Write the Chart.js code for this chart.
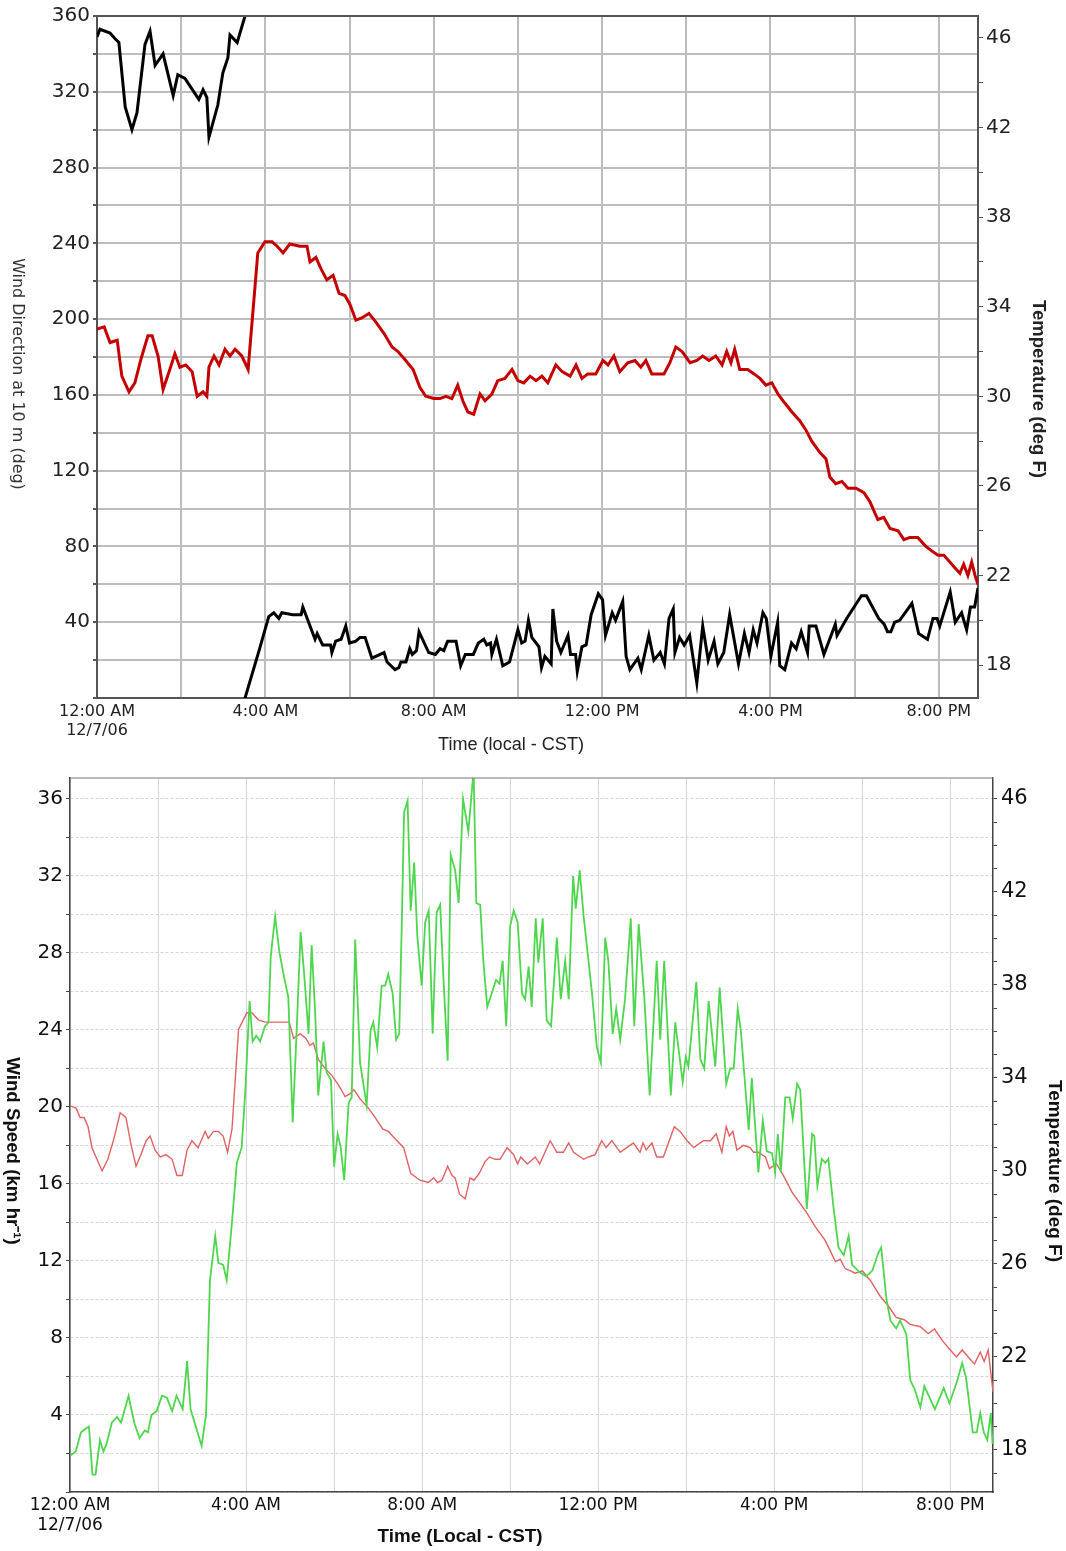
<!DOCTYPE html>
<html lang="en">
<head>
  <meta charset="UTF-8">
  <title>Wind and temperature 12/7/06</title>
  <script src="https://cdn.jsdelivr.net/npm/chart.js"></script>
  <style>
    body { margin: 0; background: #fff; }
    canvas { position: absolute; left: 0; }
  </style>
</head>
<body>
  <canvas id="dirChart" width="1066" height="760" style="top:0"></canvas>
  <canvas id="speedChart" width="1066" height="791" style="top:760px"></canvas>

  <script>
    // hours after midnight (CST), 12/7/06
    const dirHours = [0.00, 0.07, 0.31, 0.43, 0.52, 0.67, 0.83, 0.95, 1.14, 1.26,
      1.38, 1.57, 1.81, 1.92, 2.09, 2.21, 2.42, 2.52, 2.61, 2.66,
      2.87, 2.99, 3.11, 3.16, 3.33, 3.85, 4.08, 4.20, 4.32, 4.39,
      4.65, 4.85, 4.89, 5.18, 5.23, 5.36, 5.55, 5.58, 5.67, 5.80,
      5.91, 6.00, 6.15, 6.25, 6.37, 6.53, 6.82, 6.89, 7.08, 7.17,
      7.22, 7.34, 7.43, 7.49, 7.59, 7.65, 7.88, 8.04, 8.15, 8.24,
      8.33, 8.53, 8.64, 8.75, 8.94, 9.06, 9.19, 9.26, 9.35, 9.38,
      9.49, 9.64, 9.80, 10.00, 10.09, 10.17, 10.25, 10.33, 10.50, 10.56,
      10.64, 10.79, 10.83, 10.92, 11.02, 11.19, 11.25, 11.37, 11.41, 11.52,
      11.62, 11.74, 11.91, 12.01, 12.08, 12.24, 12.32, 12.49, 12.57, 12.66,
      12.85, 12.93, 13.11, 13.23, 13.38, 13.48, 13.59, 13.69, 13.73, 13.84,
      13.95, 14.08, 14.25, 14.39, 14.52, 14.66, 14.75, 14.89, 15.03, 15.24,
      15.38, 15.49, 15.59, 15.68, 15.82, 15.90, 16.01, 16.17, 16.22, 16.34,
      16.50, 16.61, 16.73, 16.88, 16.92, 17.08, 17.27, 17.54, 17.58, 17.81,
      18.16, 18.28, 18.57, 18.70, 18.78, 18.86, 18.95, 19.07, 19.36, 19.52,
      19.73, 19.86, 19.96, 20.02, 20.27, 20.39, 20.54, 20.66, 20.75, 20.85,
      20.93];
    const dirDeg = [349, 353, 351, 348, 346, 312, 300, 309, 345, 352,
      334, 340, 318, 329, 327, 323, 316, 321, 317, 296,
      313, 330, 338, 350, 346, 25, 43, 45, 42, 45,
      44, 44, 48, 31, 34, 28, 28, 24, 30, 31,
      38, 29, 30, 32, 32, 21, 24, 19, 15, 16,
      19, 19, 26, 23, 25, 35, 24, 23, 26, 25,
      30, 30, 17, 23, 23, 29, 31, 28, 29, 23,
      31, 17, 19, 36, 29, 30, 41, 32, 27, 16,
      22, 18, 47, 30, 24, 33, 23, 23, 14, 27,
      28, 44, 55, 52, 33, 45, 41, 51, 22, 15,
      21, 15, 33, 20, 24, 18, 42, 47, 24, 32,
      28, 33, 8, 38, 20, 30, 18, 24, 44, 18,
      34, 24, 36, 29, 45, 42, 22, 40, 17, 15,
      29, 26, 35, 24, 38, 38, 23, 39, 33, 42,
      54, 54, 42, 39, 35, 35, 40, 41, 50, 34,
      31, 42, 42, 38, 56, 40, 45, 36, 48, 48,
      58];

    const tempTopHours = [0.00, 0.17, 0.31, 0.48, 0.59, 0.76, 0.90, 1.05, 1.21, 1.31,
      1.45, 1.57, 1.73, 1.85, 1.97, 2.11, 2.26, 2.38, 2.52, 2.61,
      2.66, 2.78, 2.90, 3.04, 3.16, 3.28, 3.44, 3.59, 3.71, 3.82,
      3.99, 4.16, 4.28, 4.42, 4.58, 4.82, 4.99, 5.06, 5.20, 5.32,
      5.46, 5.61, 5.75, 5.89, 6.01, 6.15, 6.29, 6.46, 6.63, 6.82,
      7.01, 7.15, 7.29, 7.51, 7.67, 7.81, 8.00, 8.15, 8.29, 8.43,
      8.57, 8.69, 8.81, 8.95, 9.10, 9.22, 9.38, 9.52, 9.69, 9.86,
      10.00, 10.14, 10.29, 10.43, 10.57, 10.71, 10.90, 11.05, 11.24, 11.38,
      11.52, 11.66, 11.85, 12.02, 12.14, 12.28, 12.42, 12.61, 12.78, 12.92,
      13.04, 13.18, 13.33, 13.47, 13.61, 13.75, 13.90, 14.09, 14.25, 14.39,
      14.54, 14.70, 14.85, 14.96, 15.06, 15.15, 15.27, 15.46, 15.61, 15.75,
      15.89, 16.03, 16.18, 16.34, 16.51, 16.70, 16.84, 16.98, 17.17, 17.32,
      17.41, 17.55, 17.70, 17.84, 18.03, 18.22, 18.36, 18.55, 18.69, 18.84,
      19.03, 19.17, 19.31, 19.50, 19.69, 19.83, 19.98, 20.12, 20.26, 20.40,
      20.50, 20.59, 20.69, 20.78, 20.86, 20.93];
    const tempTopF = [33.0, 33.1, 32.4, 32.5, 30.9, 30.2, 30.6, 31.7, 32.7, 32.7,
      31.8, 30.3, 31.2, 31.9, 31.3, 31.4, 31.1, 30.0, 30.2, 30.0,
      31.3, 31.8, 31.4, 32.1, 31.8, 32.1, 31.8, 31.2, 33.9, 36.4,
      36.9, 36.9, 36.7, 36.4, 36.8, 36.7, 36.7, 36.0, 36.2, 35.7,
      35.2, 35.4, 34.6, 34.5, 34.1, 33.4, 33.5, 33.7, 33.3, 32.8,
      32.2, 32.0, 31.7, 31.2, 30.4, 30.0, 29.9, 29.9, 30.0, 29.9,
      30.5, 29.8, 29.3, 29.2, 30.1, 29.8, 30.1, 30.7, 30.8, 31.2,
      30.7, 30.6, 30.9, 30.7, 30.9, 30.6, 31.4, 31.1, 30.9, 31.4,
      30.8, 31.0, 31.0, 31.6, 31.4, 31.8, 31.1, 31.5, 31.6, 31.3,
      31.6, 31.0, 31.0, 31.0, 31.5, 32.2, 32.0, 31.5, 31.6, 31.8,
      31.6, 31.8, 31.4, 32.0, 31.5, 32.1, 31.2, 31.2, 31.0, 30.8,
      30.5, 30.6, 30.1, 29.7, 29.3, 28.9, 28.5, 28.0, 27.5, 27.2,
      26.4, 26.1, 26.2, 25.9, 25.9, 25.7, 25.3, 24.5, 24.6, 24.1,
      24.0, 23.6, 23.7, 23.7, 23.3, 23.1, 22.9, 22.9, 22.6, 22.3,
      22.1, 22.5, 22.0, 22.6, 22.0, 21.6];

    const speedHours = [0.01, 0.13, 0.25, 0.36, 0.43, 0.51, 0.58, 0.68, 0.76, 0.83,
      0.95, 1.07, 1.16, 1.33, 1.46, 1.58, 1.70, 1.77, 1.85, 1.97,
      2.09, 2.20, 2.32, 2.42, 2.56, 2.66, 2.74, 2.99, 3.09, 3.18,
      3.30, 3.37, 3.48, 3.56, 3.68, 3.79, 3.90, 3.98, 4.08, 4.15,
      4.23, 4.32, 4.43, 4.51, 4.56, 4.66, 4.76, 4.86, 4.96, 5.06,
      5.15, 5.24, 5.32, 5.42, 5.49, 5.57, 5.64, 5.76, 5.83, 5.93,
      6.00, 6.08, 6.15, 6.23, 6.33, 6.40, 6.48, 6.59, 6.74, 6.83,
      6.89, 6.98, 7.08, 7.16, 7.23, 7.33, 7.41, 7.48, 7.54, 7.59,
      7.67, 7.74, 7.82, 7.89, 7.99, 8.07, 8.15, 8.24, 8.33, 8.41,
      8.48, 8.58, 8.65, 8.75, 8.83, 8.93, 9.05, 9.17, 9.23, 9.32,
      9.39, 9.48, 9.58, 9.68, 9.76, 9.83, 9.91, 10.00, 10.08, 10.17,
      10.27, 10.34, 10.42, 10.49, 10.58, 10.64, 10.74, 10.83, 10.93, 11.06,
      11.15, 11.25, 11.33, 11.43, 11.49, 11.58, 11.67, 11.86, 11.97, 12.06,
      12.16, 12.23, 12.33, 12.41, 12.50, 12.61, 12.74, 12.82, 12.92, 13.05,
      13.17, 13.33, 13.41, 13.50, 13.65, 13.75, 13.92, 13.99, 14.05, 14.23,
      14.32, 14.41, 14.51, 14.66, 14.76, 14.91, 15.00, 15.08, 15.17, 15.24,
      15.42, 15.49, 15.64, 15.74, 15.83, 15.95, 16.02, 16.08, 16.15, 16.25,
      16.35, 16.42, 16.52, 16.59, 16.74, 16.86, 16.91, 16.98, 17.08, 17.16,
      17.23, 17.35, 17.46, 17.58, 17.69, 17.77, 17.95, 18.09, 18.23, 18.36,
      18.43, 18.55, 18.64, 18.77, 18.86, 19.00, 19.09, 19.18, 19.32, 19.41,
      19.65, 19.85, 19.98, 20.16, 20.27, 20.36, 20.51, 20.60, 20.68, 20.76,
      20.84, 20.92, 20.96];
    const speedKmh = [1.9, 2.1, 3.1, 3.3, 3.4, 0.9, 0.9, 2.7, 2.1, 2.5,
      3.6, 3.9, 3.6, 5.0, 3.6, 2.8, 3.2, 3.1, 4.0, 4.2,
      5.0, 4.9, 4.2, 5.0, 4.3, 6.8, 4.3, 2.4, 4.0, 11.0,
      13.3, 11.9, 11.8, 11.0, 14.0, 17.1, 17.9, 20.7, 25.5, 23.4,
      23.7, 23.4, 24.2, 24.4, 27.8, 29.9, 28.0, 26.8, 25.7, 19.2,
      24.0, 29.1, 26.9, 23.8, 28.4, 24.9, 20.6, 23.4, 21.8, 21.4,
      16.9, 18.6, 17.9, 16.2, 20.2, 20.5, 28.7, 22.3, 20.1, 24.0,
      24.4, 23.1, 26.3, 26.3, 26.9, 25.9, 23.5, 23.8, 29.7, 35.3,
      35.9, 30.2, 32.7, 28.9, 26.3, 29.6, 30.2, 23.8, 30.1, 30.5,
      26.9, 22.4, 33.1, 32.3, 30.6, 36.0, 34.3, 37.5, 30.6, 30.5,
      27.6, 25.2, 25.9, 26.6, 26.4, 27.6, 24.2, 29.4, 30.2, 29.6,
      25.9, 25.6, 27.3, 25.2, 29.8, 27.5, 29.8, 24.5, 24.2, 28.8,
      25.6, 27.6, 25.6, 32.0, 30.3, 32.3, 29.9, 25.9, 23.1, 22.3,
      28.8, 27.6, 23.8, 25.1, 23.5, 25.6, 29.8, 24.2, 29.5, 25.6,
      20.6, 27.6, 23.5, 27.6, 20.6, 24.4, 21.3, 22.6, 22.1, 26.5,
      22.5, 22.0, 25.5, 22.1, 26.2, 21.2, 22.0, 22.0, 25.1, 24.0,
      18.8, 21.5, 16.6, 19.3, 17.7, 17.6, 16.6, 18.6, 16.6, 20.5,
      20.5, 19.4, 21.2, 20.9, 14.7, 18.6, 18.5, 15.9, 17.3, 17.1,
      17.3, 14.7, 12.7, 12.3, 13.3, 11.8, 11.4, 11.2, 11.5, 12.4,
      12.7, 10.0, 8.9, 8.5, 8.9, 8.2, 5.8, 5.4, 4.4, 5.5,
      4.3, 5.4, 4.6, 5.8, 6.7, 5.9, 3.1, 3.1, 4.1, 3.1,
      2.7, 4.1, 2.5];

    const tempBotHours = [0.00, 0.14, 0.23, 0.32, 0.41, 0.50, 0.59, 0.73, 0.86, 1.00,
      1.14, 1.27, 1.39, 1.50, 1.61, 1.73, 1.82, 1.93, 2.05, 2.18,
      2.32, 2.43, 2.55, 2.66, 2.77, 2.91, 3.07, 3.14, 3.26, 3.37,
      3.48, 3.58, 3.68, 3.83, 4.02, 4.13, 4.28, 4.43, 4.98, 5.08,
      5.23, 5.36, 5.45, 5.53, 5.64, 5.80, 5.95, 6.10, 6.25, 6.35,
      6.45, 6.59, 6.78, 6.93, 7.11, 7.23, 7.43, 7.58, 7.74, 7.95,
      8.14, 8.26, 8.35, 8.45, 8.58, 8.68, 8.75, 8.85, 8.98, 9.09,
      9.18, 9.30, 9.43, 9.53, 9.66, 9.77, 9.93, 10.08, 10.17, 10.24,
      10.39, 10.57, 10.67, 10.91, 11.06, 11.21, 11.33, 11.44, 11.67, 11.78,
      11.93, 12.08, 12.18, 12.31, 12.50, 12.65, 12.80, 12.95, 13.02, 13.09,
      13.22, 13.33, 13.48, 13.73, 13.86, 14.02, 14.17, 14.39, 14.55, 14.68,
      14.81, 14.91, 14.98, 15.06, 15.15, 15.30, 15.45, 15.53, 15.64, 15.80,
      15.89, 16.05, 16.21, 16.40, 16.74, 16.93, 17.16, 17.39, 17.50, 17.61,
      17.73, 17.84, 18.00, 18.18, 18.41, 18.59, 18.77, 18.95, 19.09, 19.32,
      19.50, 19.64, 19.82, 20.00, 20.14, 20.27, 20.45, 20.55, 20.68, 20.77,
      20.86, 20.97];
    const tempBotF = [32.8, 32.7, 32.3, 32.3, 31.9, 31.0, 30.6, 30.0, 30.5, 31.4,
      32.5, 32.3, 31.1, 30.2, 30.7, 31.3, 31.5, 30.9, 30.6, 30.7,
      30.5, 29.8, 29.8, 30.9, 31.3, 31.0, 31.7, 31.4, 31.7, 31.7,
      31.5, 30.8, 31.8, 36.1, 36.8, 36.8, 36.5, 36.4, 36.4, 35.7,
      35.9, 35.7, 35.4, 35.5, 34.8, 34.4, 34.1, 33.7, 33.2, 33.3,
      33.5, 33.1, 32.7, 32.3, 31.8, 31.7, 31.3, 31.0, 29.9, 29.6,
      29.5, 29.7, 29.5, 29.6, 30.2, 29.8, 29.7, 29.0, 28.8, 29.7,
      29.6, 29.9, 30.4, 30.6, 30.5, 30.5, 31.0, 30.7, 30.3, 30.6,
      30.3, 30.6, 30.3, 31.3, 30.8, 30.8, 31.2, 30.8, 30.5, 30.6,
      30.7, 31.3, 31.0, 31.3, 30.8, 31.0, 31.2, 30.8, 31.2, 30.9,
      31.2, 30.6, 30.6, 31.9, 31.7, 31.3, 31.0, 31.3, 31.3, 31.6,
      30.8, 31.9, 31.5, 31.7, 30.9, 31.1, 31.0, 30.8, 30.8, 30.6,
      30.1, 30.3, 29.8, 29.1, 28.2, 27.6, 27.0, 26.1, 26.2, 25.8,
      25.7, 25.6, 25.7, 25.3, 24.6, 24.2, 23.7, 23.6, 23.4, 23.3,
      23.0, 23.2, 22.7, 22.3, 22.0, 22.3, 21.9, 21.7, 22.2, 21.8,
      22.3, 20.5];

    const timeTickHours = [0, 4, 8, 12, 16, 20];
    const timeTickLabels = [["12:00 AM", "12/7/06"], "4:00 AM", "8:00 AM", "12:00 PM", "4:00 PM", "8:00 PM"];
    const dirTickLabels = [40, 80, 120, 160, 200, 240, 280, 320, 360];
    const speedTickLabels = [4, 8, 12, 16, 20, 24, 28, 32, 36];
    const tempTickLabels = [18, 22, 26, 30, 34, 38, 42, 46];

    function zip(xs, ys) {
      const n = Math.min(xs.length, ys.length);
      const out = [];
      for (let i = 0; i < n; i++) out.push({ x: xs[i], y: ys[i] });
      return out;
    }

    // direction wraps 360 -> 0; split there so the line runs off the top and comes back from the bottom
    function splitWrapped(xs, ys) {
      const segs = [[]];
      for (let i = 0; i < xs.length; i++) {
        if (i > 0 && Math.abs(ys[i] - ys[i - 1]) > 180) {
          const shift = ys[i] < ys[i - 1] ? 360 : -360;
          segs[segs.length - 1].push({ x: xs[i], y: ys[i] + shift });
          segs.push([{ x: xs[i - 1], y: ys[i - 1] - shift }]);
        }
        segs[segs.length - 1].push({ x: xs[i], y: ys[i] });
      }
      return segs;
    }

    function ticksEvery(from, to, step) {
      const t = [];
      for (let v = from; v <= to + 1e-9; v += step) t.push({ value: v });
      return t;
    }

    function timeLabel(v) {
      const i = timeTickHours.indexOf(v);
      return i >= 0 ? timeTickLabels[i] : "";
    }

    // axis titles drawn by hand: the picture has them rotated clockwise
    function titlePlugin(items, frameColor, frameWidth) {
      return {
        id: "titles",
        afterDraw(chart) {
          const ctx = chart.ctx;
          const a = chart.chartArea;
          ctx.save();
          ctx.strokeStyle = frameColor;
          ctx.lineWidth = frameWidth;
          ctx.beginPath();
          ctx.moveTo(a.left, a.top);
          ctx.lineTo(a.right, a.top);
          ctx.stroke();
          items.forEach(t => {
            ctx.save();
            ctx.translate(t.x, t.y);
            ctx.rotate(t.rotate);
            ctx.font = `${t.weight} 100px "${t.family}"`;
            const size = 100 * t.length / ctx.measureText(t.text).width;
            ctx.font = `${t.weight} ${size}px "${t.family}"`;
            ctx.fillStyle = t.color;
            ctx.textAlign = "center";
            ctx.textBaseline = "middle";
            ctx.fillText(t.text, 0, 0);
            ctx.restore();
          });
          ctx.restore();
        }
      };
    }

    const common = {
      responsive: false,
      animation: false,
      devicePixelRatio: 1,
      elements: { point: { radius: 0 }, line: { tension: 0 } },
      plugins: { legend: { display: false }, tooltip: { enabled: false } }
    };

    // top panel: wind direction + temperature
    new Chart(document.getElementById("dirChart"), {
      type: "line",
      data: {
        datasets: [
          ...splitWrapped(dirHours, dirDeg).map(seg => ({
            data: seg, yAxisID: "yDir", borderColor: "#000", borderWidth: 3
          })),
          { data: zip(tempTopHours, tempTopF), yAxisID: "yTemp", borderColor: "#c40000", borderWidth: 3 }
        ]
      },
      options: {
        ...common,
        layout: { padding: { top: 16 } },
        scales: {
          x: {
            type: "linear", min: 0, max: 20.93,
            afterBuildTicks: s => { s.ticks = ticksEvery(0, 20, 2); },
            afterFit: s => { s.height = 62; },
            grid: { color: "#bdbdbd", lineWidth: 2, drawTicks: false },
            border: { color: "#555", width: 2 },
            ticks: {
              autoSkip: false, maxRotation: 0, padding: 4, color: "#222",
              font: { family: "DejaVu Sans", size: 16 },
              callback: timeLabel
            }
          },
          yDir: {
            position: "left", min: 0, max: 360,
            afterBuildTicks: s => { s.ticks = ticksEvery(0, 360, 20); },
            afterFit: s => { s.width = 97; },
            grid: { color: "#bdbdbd", lineWidth: 2, tickLength: 4, tickColor: "#555" },
            border: { color: "#555", width: 2 },
            ticks: {
              autoSkip: false, padding: 3, color: "#222",
              font: { family: "DejaVu Sans", size: 20 },
              callback: v => dirTickLabels.includes(v) ? String(v) : ""
            }
          },
          yTemp: {
            position: "right", min: 16.53, max: 46.98,
            afterBuildTicks: s => { s.ticks = ticksEvery(18, 46, 2); },
            afterFit: s => { s.width = 88; },
            grid: { drawOnChartArea: false, tickLength: 5, tickColor: "#555" },
            border: { color: "#555", width: 2 },
            ticks: {
              autoSkip: false, padding: 3, color: "#222",
              font: { family: "DejaVu Sans", size: 20 },
              callback: v => tempTickLabels.includes(v) ? String(v) : ""
            }
          }
        }
      },
      plugins: [titlePlugin([
        { text: "Wind Direction at 10 m (deg)", x: 17, y: 374, rotate: Math.PI / 2, weight: "normal", family: "DejaVu Sans", length: 232, color: "#333" },
        { text: "Temperature (deg F)", x: 1038, y: 389, rotate: Math.PI / 2, weight: "bold", family: "Liberation Sans", length: 178, color: "#222" },
        { text: "Time (local - CST)", x: 511, y: 745, rotate: 0, weight: "normal", family: "Liberation Sans", length: 146, color: "#222" }
      ], "#555", 2)]
    });

    // bottom panel: wind speed + temperature
    new Chart(document.getElementById("speedChart"), {
      type: "line",
      data: {
        datasets: [
          { data: zip(speedHours, speedKmh), yAxisID: "ySpeed", borderColor: "#4fd64f", borderWidth: 1.8 },
          { data: zip(tempBotHours, tempBotF), yAxisID: "yTemp", borderColor: "#e06262", borderWidth: 1.4 }
        ]
      },
      options: {
        ...common,
        layout: { padding: { top: 18 } },
        scales: {
          x: {
            type: "linear", min: 0, max: 20.97,
            afterBuildTicks: s => { s.ticks = ticksEvery(0, 20, 2); },
            afterFit: s => { s.height = 59; },
            grid: { color: "#d6d6d6", lineWidth: 1, drawTicks: false },
            border: { color: "#444", width: 1.5 },
            ticks: {
              autoSkip: false, maxRotation: 0, padding: 3, color: "#111",
              font: { family: "DejaVu Sans", size: 17 },
              callback: timeLabel
            }
          },
          ySpeed: {
            position: "left", min: 0, max: 37.09,
            afterBuildTicks: s => { s.ticks = ticksEvery(0, 36, 2); },
            afterFit: s => { s.width = 70; },
            grid: { color: "#d6d6d6", lineWidth: 1, tickLength: 4, tickColor: "#444" },
            border: { color: "#444", width: 1.5, dash: [3, 2] },
            ticks: {
              autoSkip: false, padding: 3, color: "#111",
              font: { family: "DejaVu Sans", size: 20 },
              callback: v => speedTickLabels.includes(v) ? String(v) : ""
            }
          },
          yTemp: {
            position: "right", min: 16.19, max: 46.9,
            afterBuildTicks: s => { s.ticks = ticksEvery(17, 46, 1); },
            afterFit: s => { s.width = 73; },
            grid: { drawOnChartArea: false, tickLength: 4, tickColor: "#444" },
            border: { color: "#444", width: 1.5 },
            ticks: {
              autoSkip: false, padding: 4, color: "#111",
              font: { family: "DejaVu Sans", size: 21 },
              callback: v => tempTickLabels.includes(v) ? String(v) : ""
            }
          }
        }
      },
      plugins: [titlePlugin([
        { text: "Wind Speed (km hr⁻¹)", x: 12, y: 391, rotate: Math.PI / 2, weight: "bold", family: "Liberation Sans", length: 188, color: "#111" },
        { text: "Temperature (deg F)", x: 1054, y: 411, rotate: Math.PI / 2, weight: "bold", family: "Liberation Sans", length: 182, color: "#111" },
        { text: "Time (Local - CST)", x: 460, y: 777, rotate: 0, weight: "bold", family: "Liberation Sans", length: 165, color: "#111" }
      ], "#777", 1)]
    });
  </script>
</body>
</html>
